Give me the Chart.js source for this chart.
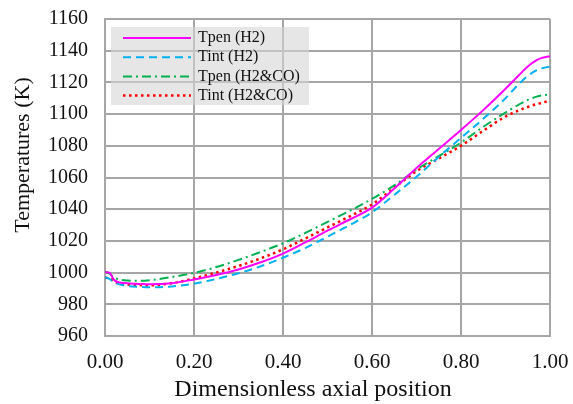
<!DOCTYPE html>
<html lang="en">
<head>
    <meta charset="UTF-8">
    <title>Temperature profiles</title>
    <script src="https://cdn.jsdelivr.net/npm/chart.js"></script>
    <style>
        html, body { margin: 0; padding: 0; background: #fff; }
        #wrap { width: 573px; height: 404px; }
    </style>
</head>
<body>
    <div id="wrap"><canvas id="tempChart" width="573" height="404"></canvas></div>

<script>
    // Axial positions (dimensionless) and temperature profiles (K)
    const positions = [0, 0.01, 0.02, 0.03, 0.05, 0.08, 0.10, 0.15, 0.20, 0.25, 0.30, 0.35, 0.40, 0.45, 0.50,
                       0.55, 0.60, 0.65, 0.70, 0.75, 0.80, 0.85, 0.90, 0.93, 0.95, 0.97, 0.98, 1.00];
    const tpenH2   = [1000.3, 1000.0, 995.5, 994.0, 993.3, 992.8, 992.6, 993.3, 995.7, 998.5, 1002.0, 1006.5, 1012.0, 1019.0, 1026.5,
                      1033.5, 1041.0, 1053.0, 1066.0, 1078.0, 1090.0, 1102.5, 1116.0, 1124.5, 1130.0, 1134.0, 1135.3, 1136.5];
    const tintH2   = [997.0, 996.0, 994.0, 992.8, 991.5, 990.9, 990.7, 991.3, 993.0, 996.0, 999.6, 1004.0, 1009.4, 1015.5, 1022.7,
                      1030.0, 1038.0, 1049.0, 1060.5, 1073.0, 1085.0, 1097.0, 1110.0, 1119.0, 1124.0, 1127.8, 1128.8, 1130.0];
    const tpenH2CO = [1000.5, 999.5, 997.0, 995.8, 995.0, 994.8, 995.2, 997.2, 999.8, 1003.5, 1008.0, 1013.0, 1018.5, 1025.0, 1032.0,
                      1039.0, 1046.5, 1055.0, 1065.0, 1073.5, 1082.0, 1092.0, 1101.0, 1106.0, 1109.0, 1111.0, 1111.7, 1112.5];
    const tintH2CO = [996.8, 996.3, 994.5, 993.3, 992.5, 992.1, 992.0, 993.3, 996.3, 1000.0, 1004.2, 1009.0, 1014.7, 1021.5, 1028.5,
                      1035.5, 1043.0, 1053.5, 1064.0, 1072.0, 1080.0, 1089.5, 1098.5, 1102.3, 1104.5, 1106.3, 1107.0, 1108.5];

    const seriesNames = ['Tpen (H2)', 'Tint (H2)', 'Tpen (H2&CO)', 'Tint (H2&CO)'];
    const xTitle = 'Dimensionless axial position';
    const yTitle = 'Temperatures (K)';

    const serif = "'Liberation Serif', 'Times New Roman', serif";
    const gridGray = '#a6a6a6';

    const toPoints = ys => positions.map((x, i) => ({ x: x, y: ys[i] }));

    // legend box drawn inside the plot, top-left, plus the axis titles
    const overlay = {
        id: 'overlay',
        afterDraw(chart) {
            const ctx = chart.ctx;
            const area = chart.chartArea;
            ctx.save();

            // legend
            const bx = area.left + 6, by = area.top + 8, bw = 198, bh = 78;
            ctx.fillStyle = 'rgba(214,214,214,0.6)';
            ctx.fillRect(bx, by, bw, bh);
            ctx.font = '16px ' + serif;
            ctx.textBaseline = 'middle';
            chart.data.datasets.forEach((ds, i) => {
                const cy = by + 11 + i * 19.2;
                ctx.strokeStyle = ds.borderColor;
                ctx.lineWidth = ds.borderWidth;
                ctx.setLineDash(ds.borderDash || []);
                ctx.beginPath();
                ctx.moveTo(bx + 12, cy);
                ctx.lineTo(bx + 80, cy);
                ctx.stroke();
                ctx.setLineDash([]);
                ctx.fillStyle = '#111';
                ctx.fillText(ds.label, bx + 87, cy);
            });

            // axis titles
            ctx.fillStyle = '#111';
            ctx.textAlign = 'center';
            ctx.textBaseline = 'middle';
            ctx.font = '24px ' + serif;
            ctx.fillText(xTitle, 313, 390);
            ctx.font = '22px ' + serif;
            ctx.translate(23, 155);
            ctx.rotate(-Math.PI / 2);
            ctx.fillText(yTitle, 0, 0);
            ctx.restore();
        }
    };

    new Chart(document.getElementById('tempChart'), {
        type: 'line',
        data: {
            datasets: [
                { label: seriesNames[0], data: toPoints(tpenH2), borderColor: '#ff00ff', borderWidth: 2 },
                { label: seriesNames[1], data: toPoints(tintH2), borderColor: '#00b0f0', borderWidth: 2, borderDash: [8, 5] },
                { label: seriesNames[2], data: toPoints(tpenH2CO), borderColor: '#00b050', borderWidth: 2, borderDash: [9, 4, 2, 4] },
                { label: seriesNames[3], data: toPoints(tintH2CO), borderColor: '#ff0000', borderWidth: 2.5, borderDash: [2.5, 3.5] }
            ]
        },
        options: {
            responsive: false,
            animation: false,
            layout: { padding: { top: 19, right: 23, left: 0, bottom: 0 } },
            elements: {
                point: { radius: 0 },
                line: { cubicInterpolationMode: 'monotone', fill: false }
            },
            plugins: {
                legend: { display: false },
                tooltip: { enabled: false }
            },
            scales: {
                x: {
                    type: 'linear',
                    min: 0,
                    max: 1,
                    afterFit: s => {
                        s.height = 68;
                        s.paddingLeft = 0;
                        s.paddingRight = 0;
                    },
                    grid: { color: gridGray, lineWidth: 2, drawTicks: false },
                    border: { color: gridGray, width: 2 },
                    ticks: {
                        stepSize: 0.2,
                        padding: 14,
                        color: '#111',
                        font: { family: serif, size: 21 },
                        maxRotation: 0,
                        callback: v => v.toFixed(2)
                    }
                },
                y: {
                    min: 960,
                    max: 1160,
                    afterFit: s => {
                        s.width = 105;
                        s.paddingTop = 0;
                        s.paddingBottom = 0;
                    },
                    grid: { color: gridGray, lineWidth: 2, drawTicks: false },
                    border: { color: gridGray, width: 2 },
                    ticks: {
                        stepSize: 20,
                        padding: 17,
                        color: '#111',
                        font: { family: serif, size: 20 },
                        callback: v => String(v)
                    }
                }
            }
        },
        plugins: [overlay]
    });
</script>
</body>
</html>
